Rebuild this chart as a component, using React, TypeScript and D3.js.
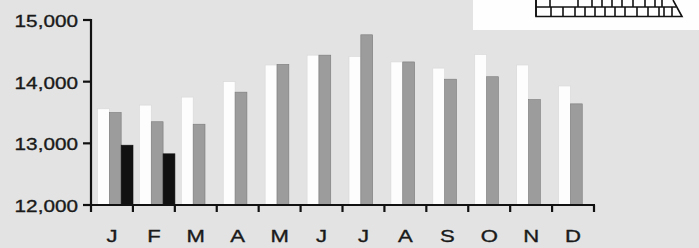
import React from "react";
import * as d3 from "d3";

const months = ["J", "F", "M", "A", "M", "J", "J", "A", "S", "O", "N", "D"];
const seriesA = [13560, 13620, 13750, 14000, 14270, 14430, 14410, 14320, 14220, 14440, 14270, 13930];
const seriesB = [13500, 13350, 13310, 13830, 14280, 14430, 14760, 14320, 14040, 14080, 13710, 13640];
const seriesC = [12970, 12830];
const yTicks = [12000, 13000, 14000, 15000];

const W = 699;
const H = 248;

export default function App() {
  const x = d3.scaleBand<number>().domain(d3.range(12)).range([91, 594]).padding(0);
  const sub = d3.scaleBand<string>().domain(["a", "b", "c"]).range([6.5, 42]).padding(0);
  const y = d3.scaleLinear().domain([12000, 15000]).range([205, 20]);
  const fmt = d3.format(",");

  const bars = [
    { key: "a", values: seriesA, fill: "#fdfdfd", stroke: "#d8d8d8" },
    { key: "b", values: seriesB, fill: "#9c9c9c", stroke: "#7a7a7a" },
    { key: "c", values: seriesC, fill: "#111111", stroke: "#111111" },
  ];

  // decorative, cut-off legend graphic in the top right corner
  const gridTop = [536, 550, 578, 592, 602, 612, 622, 633, 645, 655, 662];
  const gridBottom = [536, 551, 563, 575, 585, 595, 605, 615, 625, 637, 648, 659, 664, 672];

  return (
    <svg
      width={W}
      height={H}
      style={{ position: "fixed", left: 0, top: 0, display: "block" }}
      fontFamily="'Liberation Sans', Arial, sans-serif"
    >
      <rect width={W} height={H} fill="#e3e3e3" />
      <rect x={473} y={0} width={226} height={30} fill="#fefefe" />
      <g stroke="#111" strokeWidth={1.6} fill="none">
        <path d="M536,0 V16.5 H682 L673,0" />
        <line x1={536} x2={676} y1={7} y2={7} />
        {gridTop.map((gx, i) => (
          <line key={"t" + i} x1={gx} x2={gx} y1={0} y2={7} />
        ))}
        {gridBottom.map((gx, i) => (
          <line key={"b" + i} x1={gx} x2={gx} y1={7} y2={16.5} />
        ))}
      </g>

      {bars.map((s) =>
        s.values.map((v, i) => (
          <rect
            key={s.key + i}
            x={(x(i) ?? 0) + (sub(s.key) ?? 0)}
            y={y(v)}
            width={sub.bandwidth()}
            height={y(12000) - y(v)}
            fill={s.fill}
            stroke={s.stroke}
            strokeWidth={0.6}
          />
        ))
      )}

      <g stroke="#111" strokeWidth={2.2}>
        <line x1={91} x2={91} y1={19} y2={206} />
        <line x1={90} x2={595} y1={205} y2={205} />
        {yTicks.map((t) => (
          <line key={t} x1={83} x2={91} y1={y(t)} y2={y(t)} />
        ))}
        {d3.range(13).map((i) => {
          const tx = i < 12 ? x(i) ?? 0 : 594;
          return <line key={i} x1={tx} x2={tx} y1={205} y2={212} />;
        })}
      </g>

      <g fill="#1a1a1a" stroke="#1a1a1a" strokeWidth={0.35} fontSize={17}>
        {yTicks.map((t) => (
          <text
            key={t}
            transform={`translate(78,${y(t) + 1}) scale(1.22,1)`}
            dy="0.36em"
            textAnchor="end"
          >
            {fmt(t)}
          </text>
        ))}
        {months.map((m, i) => (
          <text
            key={i}
            transform={`translate(${(x(i) ?? 0) + x.bandwidth() / 2},242) scale(1.3,1)`}
            textAnchor="middle"
          >
            {m}
          </text>
        ))}
      </g>
    </svg>
  );
}
